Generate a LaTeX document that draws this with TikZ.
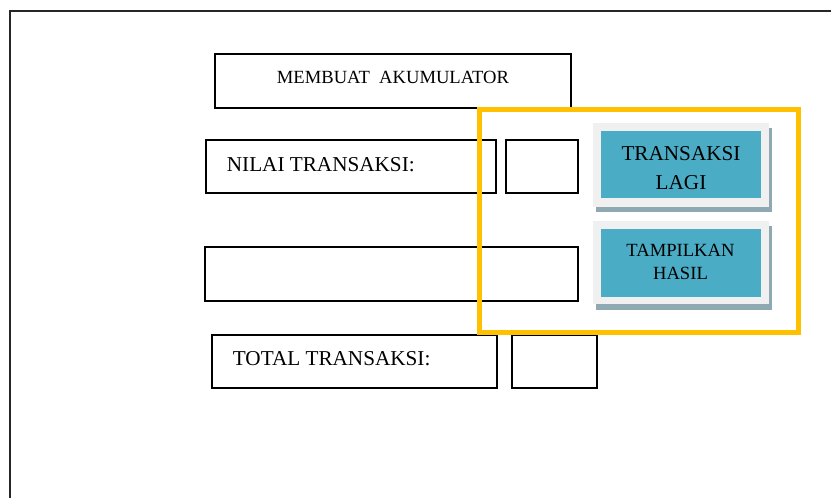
\documentclass[tikz,border=0pt]{standalone}
\usepackage{fontspec}
\setmainfont{Liberation Serif}
\definecolor{frameyellow}{HTML}{FFC000}
\definecolor{btnteal}{HTML}{4BACC6}
\definecolor{btnface}{HTML}{F0F0F0}
\definecolor{btnshadow}{HTML}{8FA9B2}
\tikzset{
  field/.style={draw=black, line width=1.5pt, fill=white},
  bigtext/.style={inner sep=0pt, font=\fontsize{21.2}{29}\selectfont},
  smalltext/.style={inner sep=0pt, font=\fontsize{18.6}{23.3}\selectfont},
  btnshade/.style={fill=btnshadow},
  btnrim/.style={fill=btnface},
  btncore/.style={fill=btnteal}
}
\begin{document}
\begin{tikzpicture}[x=1pt, y=-1pt]
  \clip (0,0) rectangle (831,498);
  \fill[white] (0,0) rectangle (831,498);

  % window frame, running off the right and bottom edges
  \coordinate (fTR) at (845,11);
  \coordinate (fTL) at (10,11);
  \coordinate (fBL) at (10,510);
  \draw[line width=2pt, black!85] (fTR) -- (fTL) -- (fBL);

  % title
  \draw[field] (215,54) rectangle (571,108);
  \node[smalltext, anchor=base] (title) at (393,83.3) {MEMBUAT\ \ AKUMULATOR};

  % input row
  \draw[field] (206,140) rectangle (496,193);
  \node[bigtext, anchor=base west] (nilai) at (226.7,171) {NILAI TRANSAKSI:};
  \draw[field] (506,140) rectangle (578,193);

  % empty field
  \draw[field] (205,247) rectangle (578,301);

  % total row
  \draw[field] (212,335) rectangle (497,388);
  \node[bigtext, anchor=base west] (total) at (232.7,365) {TOTAL TRANSAKSI:};
  \draw[field] (512,335) rectangle (597,388);

  % button: TRANSAKSI LAGI
  \fill[btnshade] (596,128) rectangle (772,212);
  \fill[btnrim] (593,123) rectangle (769,207);
  \fill[btncore] (601,131) rectangle (761,198);
  \node[bigtext, align=center] (again) at (681,167.8) {TRANSAKSI\\LAGI};

  % button: TAMPILKAN HASIL
  \fill[btnshade] (596,226) rectangle (772,310);
  \fill[btnrim] (593,221) rectangle (769,304);
  \fill[btncore] (601,229) rectangle (761,297);
  \node[smalltext, align=center] (show) at (680.5,261.7) {TAMPILKAN\\HASIL};

  % highlight around the buttons
  \draw[frameyellow, line width=5pt] (479.5,109) rectangle (798.5,332);
\end{tikzpicture}
\end{document}
